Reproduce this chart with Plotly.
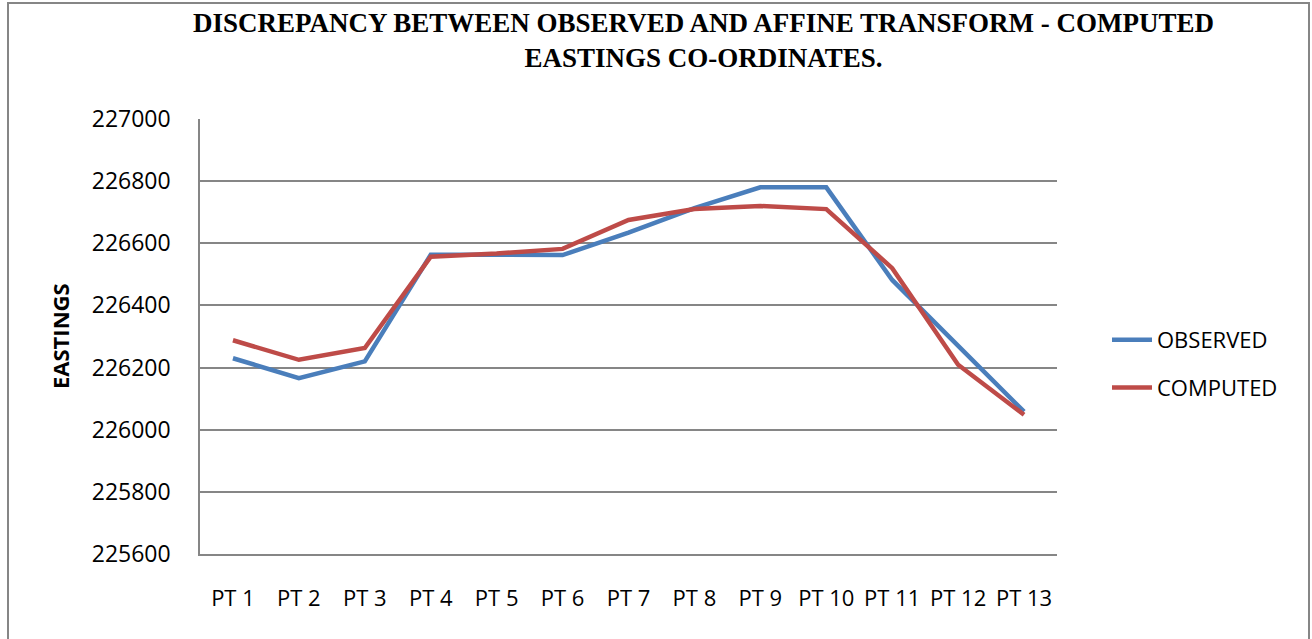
import plotly.graph_objects as go

categories = ["PT 1", "PT 2", "PT 3", "PT 4", "PT 5", "PT 6", "PT 7",
              "PT 8", "PT 9", "PT 10", "PT 11", "PT 12", "PT 13"]
observed = [226230, 226166, 226220, 226563, 226563, 226562, 226634,
            226713, 226780, 226780, 226482, 226268, 226058]
computed = [226288, 226225, 226263, 226557, 226567, 226582, 226675,
            226710, 226720, 226710, 226520, 226209, 226048]
y_ticks = [225600, 225800, 226000, 226200, 226400, 226600, 226800, 227000]

W, H = 1312, 639
L, R, T, B = 200, 255, 119, 85
pw, ph = W - L - R, H - T - B

def px(x):
    return (x - L) / pw

def py(y):
    return (H - B - y) / ph

fig = go.Figure()
fig.add_trace(go.Scatter(x=categories, y=observed, mode="lines", name="OBSERVED",
                         legendgroup="a",
                         line=dict(color="#4A7EBB", width=4.5)))
fig.add_trace(go.Scatter(x=categories, y=computed, mode="lines", name="COMPUTED",
                         legendgroup="b",
                         line=dict(color="#BE4B48", width=4.5)))

x_tick_font = dict(family="Open Sans", size=22, color="#000000")
y_tick_font = dict(family="Open Sans", size=23, color="#000000")

fig.update_layout(
    width=W, height=H,
    margin=dict(l=L, r=R, t=T, b=B),
    paper_bgcolor="white", plot_bgcolor="white",
    xaxis=dict(
        type="category", range=[-0.5, 12.5],
        showgrid=False, showline=True, linecolor="#868686", linewidth=1.5,
        ticks="", tickfont=x_tick_font, ticklabelstandoff=24,
    ),
    yaxis=dict(
        range=[225600, 227000], tickvals=y_ticks, ticktext=[str(v) for v in y_ticks],
        showgrid=True, gridcolor="#868686", gridwidth=1.5,
        showline=True, linecolor="#868686", linewidth=1.5,
        zeroline=False, ticks="", tickfont=y_tick_font, ticklabelstandoff=23,
    ),
    legend=dict(
        x=px(1107), xanchor="left", y=py(364), yanchor="middle",
        font=dict(family="Open Sans", size=22, color="#000000"),
        bgcolor="rgba(0,0,0,0)", tracegroupgap=16, traceorder="grouped",
        itemwidth=40,
    ),
    showlegend=True,
)

fig.add_annotation(
    text="DISCREPANCY BETWEEN OBSERVED AND AFFINE TRANSFORM - COMPUTED<br>EASTINGS CO-ORDINATES.",
    xref="paper", yref="paper", x=px(703), y=py(6),
    xanchor="center", yanchor="top", showarrow=False, align="center",
    font=dict(family="Liberation Serif", size=27, color="#000000", weight="bold"),
)

fig.add_annotation(
    text="<b>EASTINGS</b>", textangle=-90,
    xref="paper", yref="paper", x=px(60), y=py(336),
    xanchor="center", yanchor="middle", showarrow=False,
    font=dict(family="Open Sans", size=22, color="#000000"),
)

fig.add_shape(
    type="rect", xref="paper", yref="paper",
    x0=px(8), x1=px(1309), y0=py(660), y1=py(3),
    line=dict(color="#868686", width=2), fillcolor="rgba(0,0,0,0)", layer="below",
)

fig.write_html("out.html", config={"displayModeBar": False},
               post_script="document.body.style.margin='0';")
